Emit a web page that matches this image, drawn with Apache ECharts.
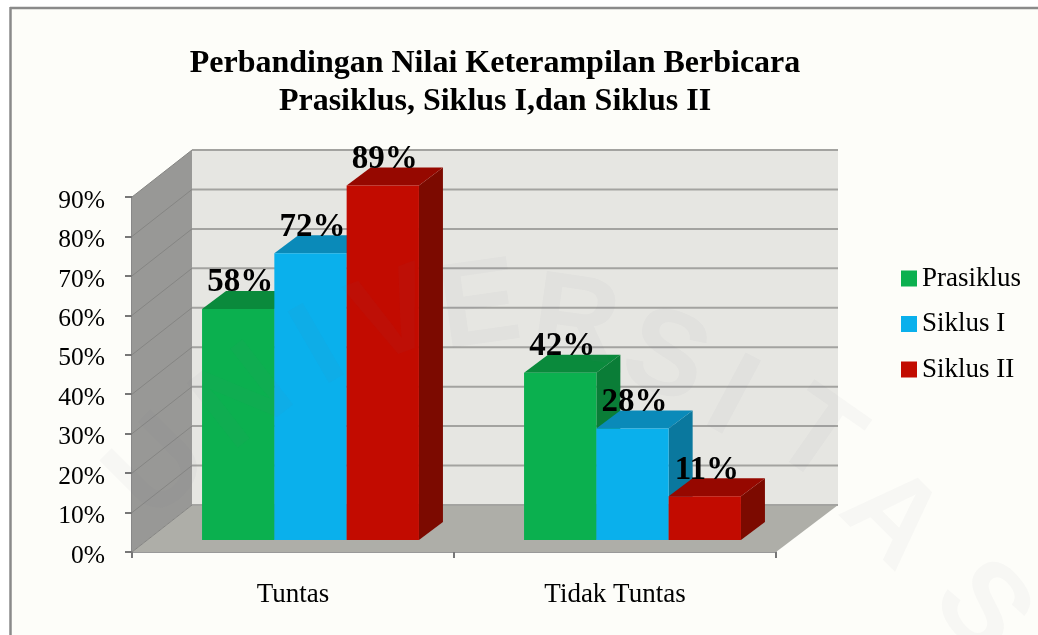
<!DOCTYPE html>
<html lang="id">

<head>
  <meta charset="UTF-8">
  <title>Perbandingan Nilai Keterampilan Berbicara</title>
  <script src="https://cdn.jsdelivr.net/npm/echarts@6/dist/echarts.min.js"></script>
  <style>
    html, body { margin: 0; background: #fff; }
    #chart { width: 1038px; height: 635px; }
  </style>
</head>

<body>
  <div id="chart"></div>

  <script>
    const categories = ['Tuntas', 'Tidak Tuntas']
    const prasiklus = [58, 42]
    const siklus1 = [72, 28]
    const siklus2 = [89, 11]
    const yTicks = [0, 10, 20, 30, 40, 50, 60, 70, 80, 90]

    const serif = '"Liberation Serif", "Times New Roman", serif'

    // front, top, side
    const shades = [
      ['#0bb04f', '#0a8a3c', '#0a7d37'],
      ['#0ab0ec', '#0a8ab9', '#0a789e'],
      ['#c20b00', '#960800', '#7c0a00']
    ]

    // the 3D look is only a shear of the axis coordinates
    const wallDx = 60, wallDy = -47
    const barDx = 24, barDy = -18
    const barLift = 12, barW = 72.3, groupShift = 17.5, barScale = 1.01

    // faint repository stamp behind the scan: letter, x, y, tilt in degrees
    const stamp = [
      ['U', 160, 470, 45], ['N', 245, 400, 38], ['I', 320, 350, 30], ['V', 395, 320, 20],
      ['E', 480, 310, 8], ['R', 575, 325, -8], ['S', 665, 360, -20], ['I', 730, 400, -28],
      ['T', 815, 440, -35], ['A', 890, 520, -45], ['S', 980, 610, -50]
    ]

    function poly(points, fill, z2) {
      return { type: 'polygon', z2: z2 || 0, shape: { points }, style: { fill } }
    }

    function renderWalls(params, api) {
      const [x0, y0] = api.coord([0, 0])
      const band = api.size([1, 0])[0]
      const x1 = x0 - band / 2
      const x2 = x1 + band * 2
      const yTop = api.coord([0, 90])[1]
      const bx1 = x1 + wallDx, bx2 = x2 + wallDx + 2
      const children = [
        poly([[bx1, yTop + wallDy], [bx2, yTop + wallDy], [bx2, y0 + wallDy], [bx1, y0 + wallDy]], '#e6e6e2'),
        poly([[x1, yTop], [bx1, yTop + wallDy], [bx1, y0 + wallDy], [x1, y0]], '#989896'),
        poly([[x1, y0], [bx1, y0 + wallDy], [bx2, y0 + wallDy], [x2, y0]], '#aeaea8')
      ]
      yTicks.forEach(t => {
        const y = api.coord([0, t])[1]
        children.push({
          type: 'line', z2: 1,
          shape: { x1, y1: y, x2: bx1, y2: y + wallDy },
          style: { stroke: '#858583', lineWidth: 1 }
        }, {
          type: 'line', z2: 1,
          shape: { x1: bx1, y1: y + wallDy, x2: bx2, y2: y + wallDy },
          style: { stroke: '#a3a3a0', lineWidth: 2 }
        })
      })
      return { type: 'group', children }
    }

    function renderBar(params, api) {
      const s = params.seriesIndex - 1
      const cat = api.value(0), val = api.value(1)
      const [cx, y0] = api.coord([cat, 0])
      const h = (y0 - api.coord([cat, val])[1]) * barScale
      const left = cx + groupShift + (s - 1.5) * barW
      const right = left + barW
      const bottom = y0 - barLift
      const top = bottom - h
      const c = shades[s]
      return {
        type: 'group',
        children: [
          poly([[right, top], [right + barDx, top + barDy], [right + barDx, bottom + barDy], [right, bottom]], c[2]),
          poly([[left, top], [left + barDx, top + barDy], [right + barDx, top + barDy], [right, top]], c[1]),
          poly([[left, top], [right, top], [right, bottom], [left, bottom]], c[0]),
          {
            type: 'text', z2: 20,
            style: {
              x: (left + right) / 2 + 2, y: top - 26,
              text: val + '%', fill: '#000', align: 'center', verticalAlign: 'middle',
              font: 'bold 33px ' + serif
            }
          }
        ]
      }
    }

    function barSeries(name, values, idx) {
      return {
        name, type: 'custom', renderItem: renderBar, z: 3,
        itemStyle: { color: shades[idx][0] },
        data: values.map((v, i) => [i, v])
      }
    }

    const chart = echarts.init(document.getElementById('chart'), null, { renderer: 'canvas' })
    chart.setOption({
      animation: false,
      backgroundColor: '#fff',
      title: {
        text: 'Perbandingan Nilai Keterampilan Berbicara\nPrasiklus, Siklus I,dan Siklus II',
        left: 490, top: 40, textAlign: 'center',
        textStyle: { fontFamily: serif, fontWeight: 'bold', fontSize: 32, lineHeight: 38, color: '#000' }
      },
      legend: {
        orient: 'vertical', left: 896, top: 260,
        icon: 'rect', itemWidth: 16, itemHeight: 16, itemGap: 18.5,
        data: ['Prasiklus', 'Siklus I', 'Siklus II'],
        textStyle: { fontFamily: serif, fontSize: 27, color: '#000', padding: [3, 0, 0, 0] }
      },
      grid: { left: 132, right: 262, top: 197, bottom: 83 },
      xAxis: {
        type: 'category', data: categories,
        axisLine: { lineStyle: { color: '#999', width: 2 } },
        axisTick: { show: true, length: 6, lineStyle: { color: '#777', width: 2 } },
        axisLabel: { fontFamily: serif, fontSize: 27, color: '#000', margin: 29 }
      },
      yAxis: {
        type: 'value', min: 0, max: 90, interval: 10,
        axisLine: { show: true, lineStyle: { color: '#888', width: 2 } },
        axisTick: { show: true, length: 7, lineStyle: { color: '#777', width: 2 } },
        splitLine: { show: false },
        axisLabel: { fontFamily: serif, fontSize: 25.5, color: '#000', margin: 27, verticalAlign: 'top', lineHeight: 8, formatter: '{value}%' }
      },
      graphic: [
        { type: 'rect', z: -1, silent: true, shape: { x: 10, y: 8, width: 1028, height: 627 }, style: { fill: '#fdfdf9' } },
        { type: 'line', z: -1, silent: true, shape: { x1: 10, y1: 8, x2: 1038, y2: 8 }, style: { stroke: '#8a8a8a', lineWidth: 2.5 } },
        { type: 'line', z: -1, silent: true, shape: { x1: 10.5, y1: 7, x2: 10.5, y2: 635 }, style: { stroke: '#8a8a8a', lineWidth: 2.5 } }
      ].concat(stamp.map(([ch, x, y, deg]) => ({
        type: 'text', z: 100, silent: true, x, y, rotation: deg * Math.PI / 180,
        style: {
          text: ch, fill: 'rgba(110,120,150,0.045)', align: 'center', verticalAlign: 'middle',
          font: 'bold 120px "Liberation Sans", sans-serif'
        }
      }))),
      series: [
        { name: 'dinding', type: 'custom', renderItem: renderWalls, z: 1, silent: true, data: [[0, 0]] },
        barSeries('Prasiklus', prasiklus, 0),
        barSeries('Siklus I', siklus1, 1),
        barSeries('Siklus II', siklus2, 2)
      ]
    })
  </script>
</body>

</html>
